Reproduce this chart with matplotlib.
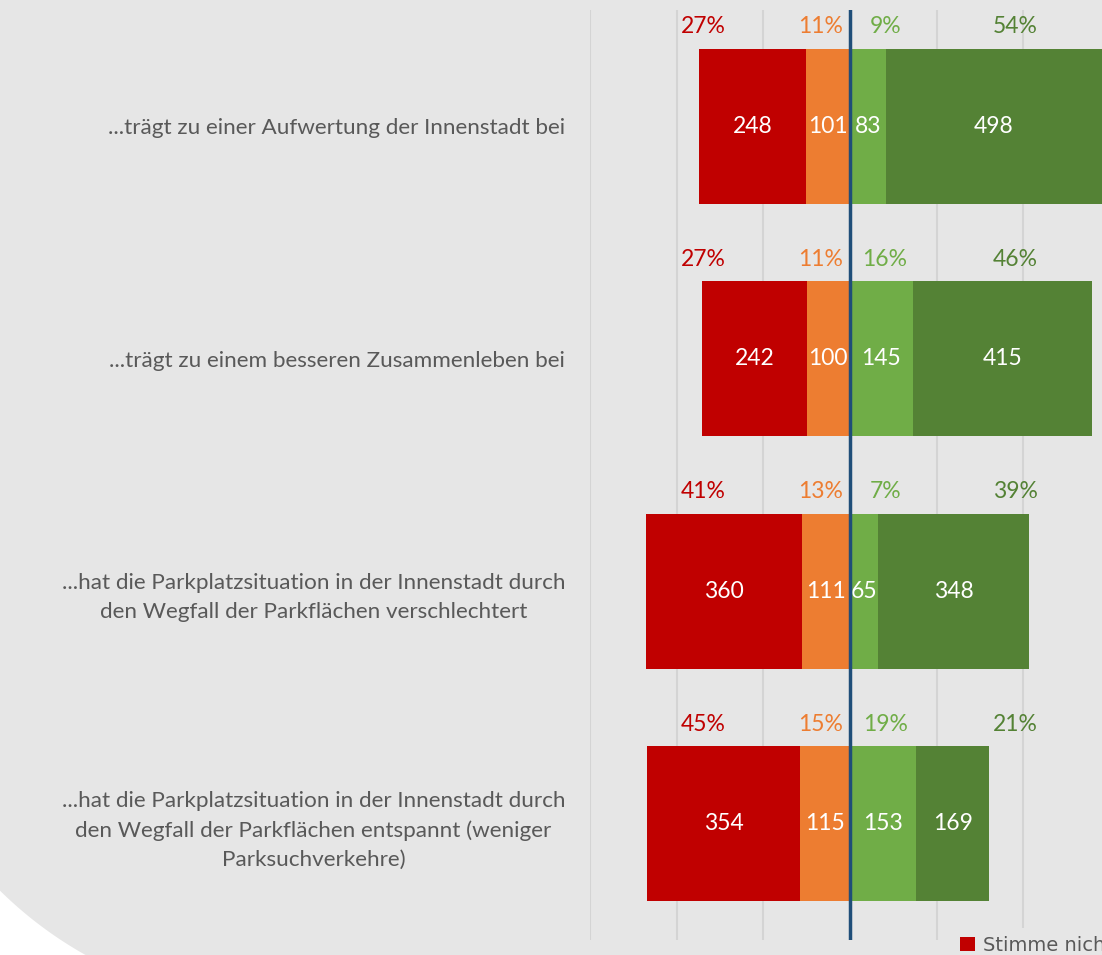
import numpy as np
import matplotlib.pyplot as plt
from matplotlib.patches import Polygon

# survey statements (top to bottom)
categories = [
    '...trägt zu einer Aufwertung der Innenstadt bei',
    '...trägt zu einem besseren Zusammenleben bei',
    '...hat die Parkplatzsituation in der Innenstadt durch\nden Wegfall der Parkflächen verschlechtert',
    '...hat die Parkplatzsituation in der Innenstadt durch\nden Wegfall der Parkflächen entspannt (weniger\nParksuchverkehre)',
]
series_names = ['Stimme nicht zu', 'Stimme eher nicht zu', 'Stimme eher zu', 'Stimme voll zu']

disagree = [248, 242, 360, 354]
rather_disagree = [101, 100, 111, 115]
rather_agree = [83, 145, 65, 153]
agree = [498, 415, 348, 169]

pct_disagree = [27, 27, 41, 45]
pct_rather_disagree = [11, 11, 13, 15]
pct_rather_agree = [9, 16, 7, 19]
pct_agree = [54, 46, 39, 21]

colors = ['#C00000', '#ED7D31', '#70AD47', '#548235']
bg = '#E6E6E6'

W, H = 1102, 955
fig = plt.figure(figsize=(W / 100, H / 100), dpi=100)
fig.patch.set_facecolor(bg)

# white rounded corner at bottom left of the slide background
cx, cy, R = 281, 606, 400
a0 = np.arctan2(890 - cy, 0 - cx)
a1 = np.arctan2(955 - cy, 87 - cx)
ang = np.linspace(a0, a1, 60)
pts = [(cx + R * np.cos(a), cy + R * np.sin(a)) for a in ang]
pts = [(-5, 888)] + pts + [(90, 960), (-5, 960)]
pts = [(x / W, 1 - y / H) for x, y in pts]
fig.patches.append(Polygon(pts, closed=True, facecolor='white', edgecolor='none',
                           transform=fig.transFigure, zorder=0))

left = 590.2 / W
width = (1109.8 - 590.2) / W
ax = fig.add_axes([left, 1 - 940 / H, width, 930 / H])
ax.set_facecolor('none')

y = np.arange(len(categories))
h = 0.667
d = np.array(disagree)
rd = np.array(rather_disagree)
ra = np.array(rather_agree)
a = np.array(agree)

segs = [(-rd - d, d), (-rd, rd), (np.zeros(4), ra), (ra, a)]
for (start, vals), c, name in zip(segs, colors, series_names):
    ax.barh(y, vals, left=start, height=h, color=c, label=name, zorder=2)
    for s, v, yy in zip(start, vals, y):
        ax.text(s + v / 2, yy, str(v), ha='center', va='center', color='white',
                fontsize=16.5, family='Lato', zorder=4)

# percentage labels above the bars
pct_x = [-339, -69, 81, 381]
for pcts, px, c in zip([pct_disagree, pct_rather_disagree, pct_rather_agree, pct_agree],
                       pct_x, colors):
    for p, yy in zip(pcts, y):
        ax.text(px, yy - h / 2 - 0.095, f'{p}%', ha='center', va='center', color=c,
                fontsize=16.5, family='Lato', zorder=4)

ax.set_xlim(-600, 600)
ax.set_ylim(3.5, -0.5)
ax.set_xticks([-600, -400, -200, 200, 400, 600])
ax.grid(axis='x', color='#D4D4D4', linewidth=1.5, zorder=0)
ax.axvline(0, color='#1F4E79', linewidth=2.5, zorder=5)
ax.tick_params(axis='x', length=0, labelbottom=False)
ax.tick_params(axis='y', length=0, pad=18)
ax.set_yticks(y)
ax.set_yticklabels(categories, fontsize=16.2, family='Lato', color='#595959')
for t in ax.get_yticklabels():
    t.set_multialignment('center')
    t.set_linespacing(1.55)
for sp in ax.spines.values():
    sp.set_visible(False)

leg = ax.legend(loc='upper left', bbox_to_anchor=(952 / W, 1 - 928 / H),
                bbox_transform=fig.transFigure, ncol=4, frameon=True,
                facecolor=bg, edgecolor='none', framealpha=1,
                fontsize=14, handlelength=0.8, handleheight=0.8,
                handletextpad=0.4, borderaxespad=0)
for t in leg.get_texts():
    t.set_color('#595959')

plt.savefig('out.png', dpi=100, facecolor=fig.get_facecolor())
plt.close()
